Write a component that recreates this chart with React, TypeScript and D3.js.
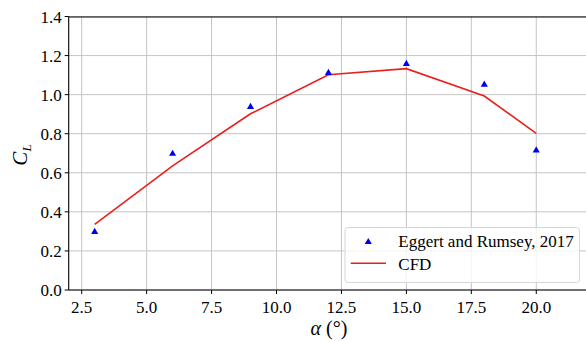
import React from "react";
import * as d3 from "d3";

const expAlpha = [3, 6, 9, 12, 15, 18, 20];
const expCL = [0.3, 0.7, 0.94, 1.114, 1.16, 1.054, 0.717];
const cfdAlpha = [3, 6, 9, 12, 15, 18, 20];
const cfdCL = [0.336, 0.635, 0.902, 1.102, 1.133, 0.993, 0.802];
const xTicks = [2.5, 5.0, 7.5, 10.0, 12.5, 15.0, 17.5, 20.0];
const yTicks = [0.0, 0.2, 0.4, 0.6, 0.8, 1.0, 1.2, 1.4];
const legendLabels = ["Eggert and Rumsey, 2017", "CFD"];

const W = 586, H = 341;
const FONT = '"Liberation Serif"';

export default function App() {
  const x = d3.scaleLinear().domain([2, 22]).range([68.7, 588.2]);
  const y = d3.scaleLinear().domain([0, 1.4]).range([290, 16.5]);
  const line = d3.line<number>().x((d, i) => x(cfdAlpha[i])).y((d) => y(d));
  const tri = d3.symbol().type(d3.symbolTriangle).size(22)();
  const x0 = x.range()[0], x1 = x.range()[1];
  const yb = y.range()[0], yt = y.range()[1];
  const ts = { fontFamily: FONT } as React.CSSProperties;
  return (
    <svg width={W} height={H} style={{ position: "absolute", left: 0, top: 0, background: "#fff" }}>
      <defs>
        <clipPath id="plot"><rect x={x0} y={yt} width={x1 - x0} height={yb - yt} /></clipPath>
      </defs>
      {xTicks.map((t) => (
        <line key={"gx" + t} x1={x(t)} x2={x(t)} y1={yt} y2={yb} stroke="#c4c4c4" strokeWidth={1} />
      ))}
      {yTicks.map((t) => (
        <line key={"gy" + t} x1={x0} x2={x1} y1={y(t)} y2={y(t)} stroke="#c4c4c4" strokeWidth={1} />
      ))}
      <g clipPath="url(#plot)">
        <path d={line(cfdCL) || ""} fill="none" stroke="#e8201e" strokeWidth={1.6} />
        {expAlpha.map((a, i) => (
          <path key={"m" + i} d={tri || ""} transform={`translate(${x(a)},${y(expCL[i]) + 0.5})`} fill="#0000ee" />
        ))}
      </g>
      <line x1={x0} x2={x1} y1={17} y2={17} stroke="#000" strokeWidth={1} />
      <line x1={x0} x2={x0} y1={yt} y2={yb} stroke="#000" strokeWidth={1.1} />
      <line x1={x0} x2={x1} y1={yb} y2={yb} stroke="#000" strokeWidth={1.1} />
      {xTicks.map((t) => (
        <g key={"xt" + t}>
          <line x1={x(t)} x2={x(t)} y1={yb} y2={yb + 4} stroke="#000" />
          <text style={ts} x={x(t)} y={yb + 23} textAnchor="middle" fontSize={17} fill="#000">{t.toFixed(1)}</text>
        </g>
      ))}
      {yTicks.map((t) => (
        <g key={"yt" + t}>
          <line x1={x0 - 4} x2={x0} y1={y(t)} y2={y(t)} stroke="#000" />
          <text style={ts} x={x0 - 7} y={y(t) + 6} textAnchor="end" fontSize={17} fill="#000">{t.toFixed(1)}</text>
        </g>
      ))}
      <text style={ts} x={329} y={335} textAnchor="middle" fontSize={20} fill="#000">
        <tspan fontStyle="italic">α</tspan> (°)
      </text>
      <text style={ts} transform="translate(27,155) rotate(-90)" textAnchor="middle" fontSize={21} fill="#000">
        <tspan fontStyle="italic">C</tspan>
        <tspan fontStyle="italic" fontSize={13} dy={4}>L</tspan>
      </text>
      <rect x={345} y={227.5} width={234.5} height={55} rx={3} fill="#fff" fillOpacity={0.8} stroke="#d6d6d6" strokeWidth={1} />
      <path d={tri || ""} transform={`translate(368.3,${242})`} fill="#0000ee" />
      <line x1={350.7} x2={386} y1={263.3} y2={263.3} stroke="#e8201e" strokeWidth={1.6} />
      <text style={ts} x={398.3} y={247} fontSize={17} fill="#000">{legendLabels[0]}</text>
      <text style={ts} x={398.3} y={270} fontSize={17} fill="#000">{legendLabels[1]}</text>
    </svg>
  );
}
